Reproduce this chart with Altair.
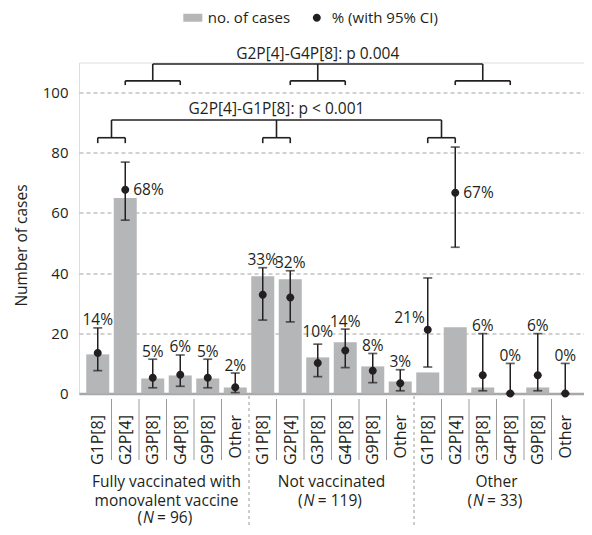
import altair as alt
import pandas as pd

# ---------------- data ----------------
group_line1 = ["Fully vaccinated with", "Not vaccinated", "Other"]
group_line2 = ["monovalent vaccine", "", ""]
group_n = [96, 119, 33]
genotypes = ["G1P[8]", "G2P[4]", "G3P[8]", "G4P[8]", "G9P[8]", "Other"]

cases_fully = [13, 65, 5, 6, 5, 2]
cases_not = [39, 38, 12, 17, 9, 4]
cases_other = [7, 22, 2, 0, 2, 0]

pct_fully = [13.5, 67.7, 5.2, 6.2, 5.2, 2.1]
pct_not = [32.8, 31.9, 10.1, 14.3, 7.6, 3.4]
pct_other = [21.2, 66.7, 6.1, 0.0, 6.1, 0.0]

ci_lo_fully = [7.6, 57.6, 1.9, 2.4, 1.9, 0.3]
ci_hi_fully = [21.8, 76.9, 11.4, 12.8, 11.4, 6.8]
ci_lo_not = [24.4, 23.8, 5.6, 8.6, 3.6, 0.9]
ci_hi_not = [41.8, 40.8, 16.4, 21.4, 13.3, 7.9]
ci_lo_other = [8.8, 48.6, 0.9, 0.0, 0.9, 0.0]
ci_hi_other = [38.4, 81.9, 19.9, 10.0, 19.9, 10.0]

pct_labels_fully = ["14%", "68%", "5%", "6%", "5%", "2%"]
pct_labels_not = ["33%", "32%", "10%", "14%", "8%", "3%"]
pct_labels_other = ["21%", "67%", "6%", "0%", "6%", "0%"]

comparisons = ["G2P[4]-G1P[8]: p < 0.001", "G2P[4]-G4P[8]: p 0.004"]
comparison_pairs = [("G1P[8]", "G2P[4]"), ("G2P[4]", "G4P[8]")]
legend_items = ["no. of cases", "% (with 95% CI)"]

# ---------------- layout / style ----------------
FONT = "Open Sans"
DARK = "#231f20"
BAR = "#b5b6b8"
GRID = "#a3a3a3"
PAGE_LEFT, PAGE_TOP = 79, 62.5
W, H = 505, 331
YMAX = 110
NCAT = 18
STEP = W / NCAT


def vy(page_y):
    return page_y - PAGE_TOP


cases = [cases_fully, cases_not, cases_other]
pcts = [pct_fully, pct_not, pct_other]
los = [ci_lo_fully, ci_lo_not, ci_lo_other]
his = [ci_hi_fully, ci_hi_not, ci_hi_other]
labs = [pct_labels_fully, pct_labels_not, pct_labels_other]
special_place = {(0, 1): "right", (2, 1): "right", (2, 0): "left", (1, 2): "lift"}

rows = []
for g in range(3):
    for j, gt in enumerate(genotypes):
        rows.append(dict(idx=g * 6 + j, geno=gt, cases=cases[g][j], pct=pcts[g][j],
                         lo=los[g][j], hi=his[g][j], label=labs[g][j],
                         place=special_place.get((g, j), "top"), ltype=legend_items[1]))
df = pd.DataFrame(rows)

# brackets (levels in data units: leg bottom, small top, big level, text baseline)
levels = [(83.2, 85.0, 90.9, 93.0), (102.5, 103.9, 109.5, 111.3)]
segs, btexts = [], []
for (txt, (a, b)), (leg_b, small_t, big, ty) in zip(zip(comparisons, comparison_pairs), levels):
    ia, ib = genotypes.index(a), genotypes.index(b)
    mids = []
    for g in range(3):
        xa, xb = g * 6 + ia, g * 6 + ib
        m = (xa + xb) / 2
        mids.append(m)
        segs += [dict(idx=xa, x2=xb, y=small_t, y2=small_t),
                 dict(idx=xa, x2=xa, y=leg_b, y2=small_t),
                 dict(idx=xb, x2=xb, y=leg_b, y2=small_t),
                 dict(idx=m, x2=m, y=small_t, y2=big)]
    segs.append(dict(idx=mids[0], x2=mids[-1], y=big, y2=big))
    btexts.append(dict(idx=(mids[0] + mids[-1]) / 2, y=ty, text=txt))
seg_df = pd.DataFrame(segs)
btext_df = pd.DataFrame(btexts)

bounds = pd.DataFrame([dict(idx=b - 0.5, dashed=(b % 6 == 0)) for b in range(1, NCAT)])

gl_df = pd.DataFrame([dict(idx=g * 6 + 2.5, l1=group_line1[g], l2=group_line2[g], g=g) for g in range(3)])

# italic N pieces
GFS = 15.5
cw = {"(": 0.296, ")": 0.296, " ": 0.26, "=": 0.571, "N": 0.74}


def twidth(s):
    return sum(cw.get(ch, 0.571) for ch in s) * GFS


npieces = []
for g in range(3):
    rest = f" = {group_n[g]})"
    wp, wn, wr = twidth("(") + 1, twidth("N") + 3, twidth(rest)
    left = -(wp + wn + wr) / 2
    c = g * 6 + 2.5
    npieces += [dict(g=g, idx=c + left / STEP, text="(", it=False),
                dict(g=g, idx=c + (left + wp) / STEP, text="N", it=True),
                dict(g=g, idx=c + (left + wp + wn) / STEP, text=rest, it=False)]
np_df = pd.DataFrame(npieces)

# ---------------- encodings ----------------
xscale = alt.Scale(domain=[-0.5, NCAT - 0.5], nice=False, zero=False)
yscale = alt.Scale(domain=[0, YMAX], nice=False)
label_expr = "[" + ",".join(f"'{g}'" for g in genotypes) + "][datum.value % 6]"
xaxis = alt.Axis(values=list(range(NCAT)), labelExpr=label_expr, labelAngle=-90,
                 labelAlign="right", labelBaseline="middle", labelPadding=21,
                 labelFontSize=16, labelColor=DARK, labelFont=FONT, labelOverlap=False,
                 labelFlush=False, labelBound=False,
                 ticks=False, grid=False, domain=True, domainColor="#a8a8a8",
                 domainWidth=2.5, title=None)
yaxis = alt.Axis(values=[0, 20, 40, 60, 80, 100], domain=False, ticks=False,
                 grid=True, gridDash=[4, 3], gridColor=GRID, gridWidth=1.1,
                 labelFontSize=15, labelColor=DARK, labelFont=FONT, labelPadding=11,
                 title="Number of cases", titleFontSize=15.5, titleFontWeight="normal",
                 titleColor=DARK, titleFont=FONT, titleX=-58, titleY=182.5,
                 titleAngle=270, titleAlign="center", titleBaseline="middle")

X = alt.X("idx:Q", scale=xscale, axis=xaxis)


def Y(f):
    return alt.Y(f, scale=yscale, axis=yaxis)


base = alt.Chart(df)

bars = base.mark_bar(size=23, orient="vertical", color=BAR).encode(x=X, y=Y("cases:Q"))
ci = base.mark_rule(color=DARK, strokeWidth=1.5).encode(x=X, y=Y("lo:Q"), y2="hi:Q")
cap_hi = base.mark_tick(orient="horizontal", size=9, thickness=1.7, color=DARK).encode(x=X, y=Y("hi:Q"))
cap_lo = base.mark_tick(orient="horizontal", size=9, thickness=1.7, color=DARK).encode(x=X, y=Y("lo:Q"))

RECT_PATH = "M-1,-0.42H1V0.42H-1Z"
CIRCLE_PATH = "M0.42,0A0.42,0.42,0,1,1,-0.42,0A0.42,0.42,0,1,1,0.42,0Z"
leg = alt.Legend(title=None, orient="none", legendX=104.3, legendY=-54.5,
                 direction="horizontal", symbolSize=361, symbolStrokeWidth=0,
                 labelFontSize=15, labelColor=DARK, labelFont=FONT, labelOffset=5.5,
                 columnPadding=17, padding=0)
pts = base.mark_point(filled=True, size=361, opacity=1).encode(
    x=X, y=Y("pct:Q"),
    color=alt.Color("ltype:N", scale=alt.Scale(domain=legend_items, range=[BAR, DARK]), legend=leg),
    shape=alt.Shape("ltype:N", scale=alt.Scale(domain=legend_items, range=[RECT_PATH, CIRCLE_PATH]), legend=leg),
)

tkw = dict(font=FONT, fontSize=15.5, color=DARK)
lab_top = base.transform_filter("datum.place == 'top'").mark_text(
    baseline="alphabetic", align="center", dy=-2.5, **tkw).encode(x=X, y=Y("hi:Q"), text="label:N")
lab_lift = base.transform_filter("datum.place == 'lift'").mark_text(
    baseline="alphabetic", align="center", dy=-7, **tkw).encode(x=X, y=Y("hi:Q"), text="label:N")
lab_right = base.transform_filter("datum.place == 'right'").mark_text(
    baseline="middle", align="left", dx=8, **tkw).encode(x=X, y=Y("pct:Q"), text="label:N")
lab_left = base.transform_filter("datum.place == 'left'").mark_text(
    baseline="middle", align="right", dx=-3, dy=-12, **tkw).encode(x=X, y=Y("pct:Q"), text="label:N")

brackets = alt.Chart(seg_df).mark_rule(color=DARK, strokeWidth=1.6).encode(
    x=X, x2="x2:Q", y=Y("y:Q"), y2="y2:Q")
btext = alt.Chart(btext_df).mark_text(baseline="alphabetic", align="center", **tkw).encode(
    x=X, y=Y("y:Q"), text="text:N")

sep_solid = alt.Chart(bounds).transform_filter("!datum.dashed").mark_rule(
    color="#9a9a9a", strokeWidth=1).encode(x=X, y=alt.value(vy(399)), y2=alt.value(vy(460)))
sep_dash = alt.Chart(bounds).transform_filter("datum.dashed").mark_rule(
    color="#9a9a9a", strokeWidth=1, strokeDash=[3, 3]).encode(
    x=X, y=alt.value(vy(396)), y2=alt.value(vy(527)))

gkw = dict(font=FONT, fontSize=GFS, color=DARK, align="center", baseline="alphabetic")
gl1 = alt.Chart(gl_df).mark_text(**gkw).encode(x=X, y=alt.value(vy(486.5)), text="l1:N")
gl2 = alt.Chart(gl_df).transform_filter("datum.l2 != ''").mark_text(**gkw).encode(
    x=X, y=alt.value(vy(505.5)), text="l2:N")

nkw = dict(font=FONT, fontSize=GFS, color=DARK, align="left", baseline="alphabetic")
n_layers = []
for cond, ypage in [("datum.g == 0", 523), ("datum.g != 0", 505.5)]:
    n_layers.append(alt.Chart(np_df).transform_filter(cond + " && !datum.it").mark_text(**nkw).encode(
        x=X, y=alt.value(vy(ypage)), text="text:N"))
    n_layers.append(alt.Chart(np_df).transform_filter(cond + " && datum.it").mark_text(
        fontStyle="italic", **nkw).encode(x=X, y=alt.value(vy(ypage)), text="text:N"))

chart = alt.layer(
    bars, ci, cap_hi, cap_lo, pts, lab_top, lab_lift, lab_right, lab_left,
    brackets, btext, sep_solid, sep_dash, gl1, gl2, *n_layers
).properties(
    width=W, height=H,
    autosize=alt.AutoSizeParams(type="none"),
    padding={"left": PAGE_LEFT - 8, "top": PAGE_TOP - 8, "right": 0,
             "bottom": 527 - PAGE_TOP - H},
).configure_view(stroke=None).configure(font=FONT)

chart.save("out.html", embed_options={"renderer": "svg", "actions": False})
